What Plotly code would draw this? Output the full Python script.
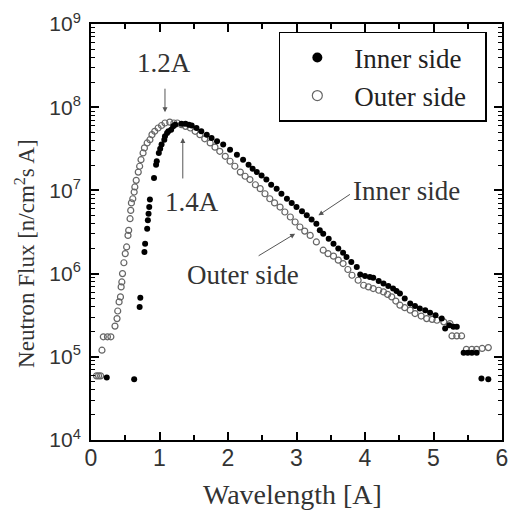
import plotly.graph_objects as go

# values
inner_wavelength = [
    0.23, 0.63, 0.71, 0.72, 0.78, 0.79, 0.82, 0.83, 0.84, 0.85,
    0.86, 0.92, 0.95, 0.96, 0.99, 1.01, 1.03, 1.07, 1.08, 1.11,
    1.13, 1.17, 1.20, 1.23, 1.32, 1.38, 1.43, 1.47, 1.54, 1.61,
    1.69, 1.76, 1.84, 1.93, 2.03, 2.13, 2.22, 2.30, 2.36, 2.42,
    2.49, 2.56, 2.63, 2.71, 2.78, 2.86, 2.93, 3.00, 3.08, 3.15,
    3.22, 3.29, 3.34, 3.39, 3.47, 3.54, 3.61, 3.68, 3.73, 3.80,
    3.88, 3.93, 4.00, 4.07, 4.12, 4.20, 4.27, 4.34, 4.41, 4.46,
    4.51, 4.58, 4.66, 4.73, 4.80, 4.88, 4.95, 5.03, 5.12, 5.17,
    5.23, 5.29, 5.34, 5.44, 5.50, 5.56, 5.63, 5.70, 5.80,
]
inner_flux = [
    5.62e4, 5.37e4, 3.98e5, 5.13e5, 1.82e6, 2.29e6, 3.47e6, 4.37e6, 5.25e6, 6.31e6,
    7.76e6, 1.41e7, 2.04e7, 2.24e7, 2.82e7, 3.16e7, 3.55e7, 4.07e7, 4.47e7, 4.90e7,
    5.13e7, 5.37e7, 5.89e7, 6.17e7, 6.31e7, 6.31e7, 6.17e7, 6.03e7, 5.62e7, 5.13e7,
    4.68e7, 4.27e7, 3.89e7, 3.55e7, 3.09e7, 2.69e7, 2.34e7, 2.04e7, 1.82e7, 1.66e7,
    1.51e7, 1.35e7, 1.17e7, 1.05e7, 9.12e6, 7.94e6, 7.08e6, 6.31e6, 5.62e6, 5.01e6,
    4.47e6, 3.98e6, 3.31e6, 3.02e6, 2.63e6, 2.29e6, 2.00e6, 1.78e6, 1.58e6, 1.38e6,
    1.20e6, 9.77e5, 9.33e5, 9.12e5, 8.91e5, 8.13e5, 7.59e5, 7.08e5, 6.61e5, 6.17e5,
    5.75e5, 5.01e5, 4.37e5, 4.07e5, 3.80e5, 3.63e5, 3.39e5, 3.16e5, 2.88e5, 2.19e5,
    2.40e5, 2.29e5, 2.29e5, 1.12e5, 1.12e5, 1.12e5, 1.12e5, 5.50e4, 5.37e4,
]

outer_wavelength = [
    0.08, 0.11, 0.14, 0.16, 0.18, 0.24, 0.29, 0.35, 0.38, 0.39,
    0.41, 0.43, 0.44, 0.45, 0.46, 0.48, 0.50, 0.52, 0.54, 0.55,
    0.57, 0.58, 0.59, 0.61, 0.63, 0.64, 0.66, 0.69, 0.71, 0.73,
    0.76, 0.78, 0.82, 0.86, 0.89, 0.93, 0.98, 1.03, 1.08, 1.15,
    1.21, 1.26, 1.32, 1.38, 1.45, 1.52, 1.59, 1.66, 1.74, 1.81,
    1.88, 1.96, 2.03, 2.10, 2.18, 2.25, 2.32, 2.40, 2.47, 2.54,
    2.61, 2.68, 2.76, 2.83, 2.91, 2.98, 3.05, 3.12, 3.20, 3.29,
    3.39, 3.46, 3.54, 3.61, 3.68, 3.75, 3.81, 3.90, 3.98, 4.05,
    4.12, 4.20, 4.27, 4.33, 4.39, 4.45, 4.51, 4.58, 4.66, 4.73,
    4.82, 4.90, 4.98, 5.05, 5.15, 5.24, 5.27, 5.34, 5.41, 5.48,
    5.56, 5.63, 5.71, 5.80,
]
outer_flux = [
    5.9e4, 5.9e4, 5.9e4, 1.2e5, 1.74e5, 1.74e5, 1.74e5, 2.34e5, 2.88e5, 3.55e5,
    4.57e5, 5.25e5, 6.92e5, 7.94e5, 1.0e6, 1.35e6, 1.74e6, 2.09e6, 2.88e6, 3.31e6,
    4.57e6, 5.75e6, 7.08e6, 7.94e6, 9.55e6, 1.10e7, 1.32e7, 1.66e7, 1.95e7, 2.34e7,
    2.82e7, 3.24e7, 3.72e7, 4.07e7, 4.68e7, 5.13e7, 5.62e7, 6.03e7, 6.46e7, 6.61e7,
    6.46e7, 6.46e7, 6.17e7, 5.89e7, 5.62e7, 5.13e7, 4.68e7, 4.17e7, 3.72e7, 3.31e7,
    2.95e7, 2.57e7, 2.24e7, 1.95e7, 1.66e7, 1.48e7, 1.35e7, 1.17e7, 1.05e7, 9.12e6,
    7.94e6, 7.08e6, 6.31e6, 5.50e6, 4.79e6, 4.17e6, 3.63e6, 3.24e6, 2.88e6, 2.40e6,
    1.91e6, 1.74e6, 1.62e6, 1.45e6, 1.32e6, 1.12e6, 9.55e5, 8.32e5, 7.24e5, 6.92e5,
    6.61e5, 6.31e5, 6.03e5, 5.62e5, 5.25e5, 4.68e5, 4.17e5, 3.89e5, 3.63e5, 3.31e5,
    3.09e5, 2.88e5, 2.82e5, 2.75e5, 2.63e5, 2.51e5, 1.78e5, 1.78e5, 1.78e5, 1.23e5,
    1.23e5, 1.23e5, 1.26e5, 1.29e5,
]

y_tick_vals = [1e4, 1e5, 1e6, 1e7, 1e8, 1e9]
y_tick_text = ["10<sup>4</sup>", "10<sup>5</sup>", "10<sup>6</sup>",
               "10<sup>7</sup>", "10<sup>8</sup>", "10<sup>9</sup>"]

serif = "Liberation Serif, Times New Roman, serif"
sans = "Liberation Sans, Arial, sans-serif"

fig = go.Figure()
fig.add_trace(go.Scatter(
    x=outer_wavelength, y=outer_flux, mode="markers", name="Outer side",
    marker=dict(symbol="circle-open", size=6, color="#666666", line=dict(width=1.2)),
    showlegend=False,
))
fig.add_trace(go.Scatter(
    x=inner_wavelength, y=inner_flux, mode="markers", name="Inner side",
    marker=dict(symbol="circle", size=6, color="black"),
    showlegend=False,
))
# legend entries with the larger symbols of the reference key
fig.add_trace(go.Scatter(
    x=[None], y=[None], mode="markers", name="Inner side",
    marker=dict(symbol="circle", size=10, color="black"),
))
fig.add_trace(go.Scatter(
    x=[None], y=[None], mode="markers", name="Outer side\u00a0\u00a0",
    marker=dict(symbol="circle-open", size=10, color="#666666", line=dict(width=1.2)),
))

axis_common = dict(
    showline=True, linecolor="black", linewidth=2, mirror="ticks",
    ticks="inside", ticklen=8, tickwidth=1.5, tickcolor="black",
    showgrid=False, zeroline=False, automargin=False,
)
fig.update_xaxes(
    range=[0, 6], dtick=1,
    tickfont=dict(family=sans, size=23, color="#333333"),
    ticklabelstandoff=-4,
    minor=dict(ticks="inside", ticklen=5, tickwidth=1.5, tickcolor="black", dtick=0.5),
    **axis_common,
)
fig.update_yaxes(
    type="log", range=[4, 9], tickvals=y_tick_vals, ticktext=y_tick_text,
    tickfont=dict(family=sans, size=21, color="#333333"),
    ticklabelstandoff=4,
    minor=dict(ticks="inside", ticklen=4, tickwidth=1.2, tickcolor="black", dtick="D1"),
    **axis_common,
)

arrow = dict(showarrow=True, arrowhead=2, arrowsize=1, arrowwidth=1, arrowcolor="#555555",
             text="", axref="pixel", ayref="pixel")
label_font = dict(family=serif, size=27, color="#333333")

annotations = [
    # 1.2A
    dict(x=1.08, y=7.94, ax=0, ay=-25, **arrow),
    dict(x=1.07, y=8.53, text="1.2A", showarrow=False, font=label_font),
    # 1.4A
    dict(x=1.34, y=7.63, ax=0, ay=42, **arrow),
    dict(x=1.48, y=6.86, text="1.4A", showarrow=False, font=label_font),
    # Inner side
    dict(x=3.32, y=6.70, ax=33, ay=-22, **arrow),
    dict(x=4.61, y=6.99, text="Inner side", showarrow=False, font=label_font),
    # Outer side
    dict(x=2.98, y=6.48, ax=-38, ay=23, **arrow),
    dict(x=2.22, y=5.98, text="Outer side", showarrow=False, font=label_font),
    # axis titles
    dict(xref="paper", yref="paper", x=-0.161, y=0.447, xanchor="center", yanchor="middle",
         textangle=-90, text="Neutron Flux [n/cm<sup>2</sup>s A]", showarrow=False,
         font=dict(family=serif, size=23, color="#333333")),
    dict(xref="paper", yref="paper", x=0.49, y=-0.132, xanchor="center", yanchor="middle",
         text="Wavelength [A]", showarrow=False,
         font=dict(family=serif, size=28, color="#333333")),
]

# the page adds an 8px margin round the plot, so the figure is 8px smaller
fig.update_layout(
    width=519, height=517,
    margin=dict(l=83, r=25, t=16, b=85),
    plot_bgcolor="white", paper_bgcolor="white",
    annotations=annotations,
    legend=dict(
        x=0.457, y=0.981, xanchor="left", yanchor="top",
        bordercolor="black", borderwidth=1.5, bgcolor="white",
        font=dict(family=serif, size=27, color="#222222"),
        itemwidth=64,
    ),
)

fig.write_html("out.html")
